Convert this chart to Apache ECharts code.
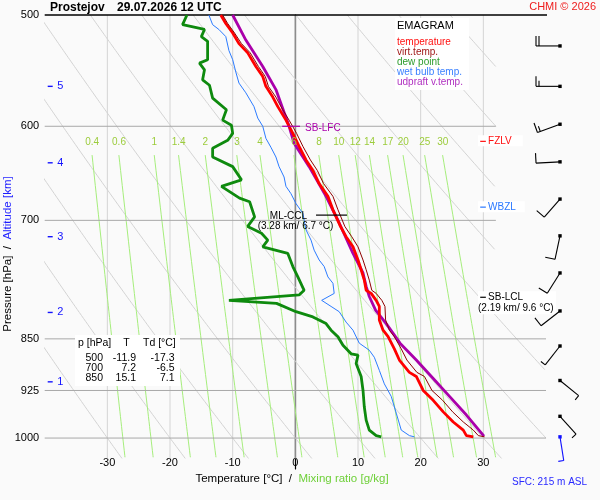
<!DOCTYPE html>
<html>
<head>
<meta charset="utf-8">
<title>Emagram Prostejov</title>
<script src="https://cdn.jsdelivr.net/npm/echarts@6.0.0/dist/echarts.min.js"></script>
<style>
html,body{margin:0;padding:0;background:#fafafa;}
#chart{width:600px;height:500px;}
</style>
</head>
<body>
<div id="chart"></div>
<script>
// ---------------- DATA ----------------
const tempP = [500,507,515,524,532,544,553,562,572,581,594,607,620,634,645,659,673,688,707,719,731,747,759,772,785,789,798,806,824,838,847,864,880,898,904,925,940,958,974,987,996,998];
const tempT = [-11.9,-11.1,-10.0,-9.0,-7.6,-6.3,-5.2,-4.7,-3.6,-2.8,-1.5,-0.4,0.6,1.7,2.8,3.8,5.2,6.0,7.2,8.1,9.2,10.0,10.5,11.0,11.3,12.1,12.9,13.4,13.4,14.0,14.8,15.8,16.6,18.2,19.3,20.4,22.0,23.6,25.2,26.8,27.3,28.4];

const virtP = [500,507,515,524,532,544,553,562,572,581,594,607,620,634,645,659,673,688,707,719,731,747,759,772,785,789,798,806,824,838,847,864,880,898,904,925,940,958,974,987,996,998];
const virtT = [-11.6,-10.8,-9.7,-8.6,-7.2,-5.9,-4.8,-4.3,-3.1,-2.3,-1.0,0.2,1.2,2.4,3.5,4.5,6.0,6.8,7.9,9.0,10.0,10.8,11.3,11.8,12.2,12.9,13.8,14.3,14.4,15.0,15.8,16.9,17.8,19.4,20.6,21.8,23.5,25.1,26.8,28.4,29.2,30.2];

const dewP = [500,508,512,518,522,538,541,547,556,561,573,584,594,599,607,614,622,631,641,655,662,675,679,696,707,715,723,731,739,755,768,785,791,798,802,813,820,829,838,847,859,871,873,885,904,925,950,971,987,996,998];
const dewT = [-17.3,-18.0,-14.5,-15.0,-14.0,-14.0,-15.3,-14.5,-14.8,-13.7,-13.2,-11.0,-11.6,-10.2,-10.0,-10.8,-13.2,-13.2,-10.0,-8.6,-11.8,-8.9,-7.3,-6.5,-7.6,-5.4,-4.4,-5.2,-1.2,-0.4,0.4,1.4,0.6,-10.6,-3.0,0.1,2.8,4.9,5.7,6.8,7.6,8.9,10.0,9.7,10.5,10.8,11.0,11.3,11.8,12.9,13.7];

const wetP = [500,508,512,518,530,538,549,559,568,581,592,600,612,621,631,641,652,662,670,681,692,711,723,735,747,755,768,776,789,798,806,813,827,838,856,866,876,895,915,934,960,987,996,998];
const wetT = [-13.8,-13.2,-12.2,-11.1,-10.6,-10.0,-9.5,-9.0,-7.9,-6.6,-6.0,-5.2,-4.7,-3.9,-3.1,-2.6,-1.8,-1.5,-0.7,0.1,1.2,1.7,2.5,3.0,3.8,4.6,5.2,6.0,6.2,4.2,5.7,7.0,8.1,9.2,10.2,11.8,12.6,13.4,14.2,15.3,16.1,16.9,18.2,19.0];

const updraftP = [500,521,544,565,600,617,641,673,703,739,763,780,793,811,829,856,880,907,934,963,997];
const updraftT = [-10.0,-7.9,-5.2,-3.1,-1.0,-0.2,2.2,4.9,7.0,9.2,10.8,11.3,11.8,12.8,14.5,16.7,19.3,22.0,24.6,27.3,30.1];

const windP   = [526,562,598,636,676,718,763,812,860,910,965,998];
const windDir = [270,270,250,267,221,192,212,232,218,129,138,171];
const windKt  = [20,15,15,10,10,10,10,10,5,5,5,5];

const levelNames = ['SB-LFC','FZLV','WBZL','ML-CCL','SB-LCL'];
const levelP     = [600,615,685,694,794];
const levelNotes = ['','','','(3.28 km/ 6.7 °C)','(2.19 km/ 9.6 °C)'];

const tableP  = [500,700,850];
const tableT  = [-11.9,7.2,15.1];
const tableTd = [-17.3,-6.5,7.1];

const pressureTicks = [500,600,700,850,925,1000];
const isobars       = [600,700,850,925,1000];
const isotherms     = [-30,-20,-10,0,10,20,30];
const altitudeKm    = [1,2,3,4,5];
const altitudeP     = [912,814,719,637,562];
const mixRatios     = [0.4,0.6,1,1.4,2,3,4,6,8,10,12,14,17,20,25,30];
const thetaC        = [-30,-20,-10,0,10,20,30,40,50,60,70,80,90,100];

// ---------------- helpers (diagram background physics) ----------------
const FONT = '"Liberation Sans", Arial, Helvetica, sans-serif';
const KAPPA = 0.286;
function adiabatT(th, p){ return (th + 273.15) * Math.pow(p / 1000, KAPPA) - 273.15; }
function mixDew(w, p){ const e = w * p / (622 + w); const l = Math.log(e / 6.112); return 243.5 * l / (17.67 - l); }
function rightLimit(p){ return p < 800 ? 32 : 40; }
const zip = (P, T) => P.map((p, i) => [T[i], p]);

const series = [];
function bg(data, color, width, z, clip){
  series.push({type:'line', data, symbol:'none', silent:true, animation:false, z:z||1,
    clip: clip !== false, lineStyle:{color, width}});
}

// isotherms
isotherms.forEach(t => bg([[t,500],[t,1034]], t === 0 ? '#8c8c8c' : '#d4d4d4', t === 0 ? 1.3 : 1, 1));
// dry adiabats
thetaC.forEach(th => {
  let seg = [];
  for (let p = 500; p <= 1034; p += 2) {
    const t = adiabatT(th, p);
    if (t <= rightLimit(p) && t >= -44) seg.push([t, p]);
    else { if (seg.length > 1) bg(seg, '#d3d3d3', 1, 1); seg = []; }
  }
  if (seg.length > 1) bg(seg, '#d3d3d3', 1, 1);
});
// mixing ratio lines
mixRatios.forEach(w => {
  const d = [];
  for (let p = 629; p <= 1032; p += 8) d.push([mixDew(w, p), p]);
  d.push([mixDew(w, 1032), 1032]);
  bg(d, '#a6ee7c', 1, 2);
});
// isobars
isobars.forEach(p => bg([[-40,p],[rightLimit(p),p]], '#a8a8a8', 1, 2));
// top border line
bg([[-40,500],[47,500]], '#000', 1.5, 5, false);

// text series helper (text placed through the axes)
function textSeries(data, make, z){
  series.push({type:'custom', silent:true, animation:false, clip:false, z:z||3, data,
    renderItem: (params, api) => make(api, params.dataIndex)});
}
// mixing ratio labels
textSeries(mixRatios.map(w => [mixDew(w, 630), 615.5]), (api, i) => {
  const pt = api.coord([api.value(0), api.value(1)]);
  return {type:'text', x:pt[0], y:pt[1], style:{text:String(mixRatios[i]), font:'10px ' + FONT, fill:'#9ccc3c', align:'center', verticalAlign:'middle'}};
}, 11);
// pressure tick labels
textSeries(pressureTicks.map(p => [-40, p]), (api, i) => {
  const pt = api.coord([api.value(0), api.value(1)]);
  return {type:'text', x:pt[0] - 5.5, y:pt[1], style:{text:String(pressureTicks[i]), font:'11px ' + FONT, fill:'#000', align:'right', verticalAlign:'middle'}};
});
// altitude ticks
textSeries(altitudeP.map(p => [-40, p]), (api, i) => {
  const pt = api.coord([api.value(0), api.value(1)]);
  return {type:'group', children:[
    {type:'rect', shape:{x:pt[0] + 3, y:pt[1] - 0.7, width:5, height:1.4}, style:{fill:'#1414ff'}},
    {type:'text', x:pt[0] + 12.5, y:pt[1], style:{text:String(altitudeKm[i]), font:'11px ' + FONT, fill:'#1414ff', align:'left', verticalAlign:'middle'}}
  ]};
});

// profiles
function prof(P, T, color, width, z){
  series.push({type:'line', data: zip(P, T), symbol:'none', silent:true, animation:false, z, lineStyle:{color, width}});
}
prof(wetP, wetT, '#2b7bff', 1, 5);
prof(dewP, dewT, '#0e8a0e', 2.8, 6);
prof(updraftP, updraftT, '#aa00aa', 2.8, 7);
prof(tempP, tempT, '#ff0000', 2.8, 8);
prof(virtP, virtT, '#8e0000', 1, 9);

// level markers
const levelLayout = [
  {tick:[-2.1,0.75], tx:1.55, color:'#aa00aa', dy:1.5},
  {box:[29.15,36.3], tick:[29.5,30.4], tx:30.75, color:'#ff1010', dy:0},
  {box:[29.15,36.6], tick:[29.5,30.4], tx:30.75, color:'#2a78ff', dy:0},
  {line:[3.3,8.25], nameRight:1.87, noteCenter:0.03, color:'#000', dy:1},
  {box:[29.15,41.6], tick:[29.5,30.4], tx:30.75, noteLeft:29.15, color:'#000', dy:0}
];
series.push({type:'custom', silent:true, animation:false, clip:false, z:10,
  data: levelP.map((p, i) => [i, p]),
  renderItem: (params, api) => {
    const i = api.value(0), p = api.value(1), L = levelLayout[i];
    const y = api.coord([0, p])[1];
    const X = t => api.coord([t, p])[0];
    const font = '10px ' + FONT;
    const ch = [];
    if (L.box) {
      const h = levelNotes[i] ? 23 : 11;
      ch.push({type:'rect', shape:{x:X(L.box[0]), y:y-6, width:X(L.box[1])-X(L.box[0]), height:h}, style:{fill:'#ffffff'}});
    }
    if (L.tick) ch.push({type:'line', shape:{x1:X(L.tick[0]), y1:y, x2:X(L.tick[1]), y2:y}, style:{stroke:L.color, lineWidth:1.2}});
    if (L.line) ch.push({type:'line', shape:{x1:X(L.line[0]), y1:y, x2:X(L.line[1]), y2:y}, style:{stroke:L.color, lineWidth:1.2}});
    if (L.tx !== undefined) ch.push({type:'text', x:X(L.tx), y:y+L.dy, style:{text:levelNames[i], fill:L.color, font, align:'left', verticalAlign:'middle'}});
    if (L.nameRight !== undefined) ch.push({type:'text', x:X(L.nameRight), y:y+L.dy, style:{text:levelNames[i], fill:L.color, font, align:'right', verticalAlign:'middle'}});
    if (L.noteCenter !== undefined) ch.push({type:'text', x:X(L.noteCenter), y:y+11, style:{text:levelNotes[i], fill:L.color, font, align:'center', verticalAlign:'middle'}});
    if (L.noteLeft !== undefined) ch.push({type:'text', x:X(L.noteLeft), y:y+10.5, style:{text:levelNotes[i], fill:L.color, font, align:'left', verticalAlign:'middle'}});
    return {type:'group', children:ch};
  }
});

// wind barbs
const BARB_X = 560;
series.push({type:'custom', silent:true, animation:false, clip:false, z:10,
  data: windP.map((p, i) => [p, windDir[i], windKt[i]]),
  renderItem: (params, api) => {
    const p = api.value(0), dir = api.value(1), kt = api.value(2);
    const y = api.coord([0, p])[1];
    const col = params.dataIndex === windP.length - 1 ? '#1010ff' : '#000';
    const r = dir * Math.PI / 180;
    const ux = Math.sin(r), uy = -Math.cos(r);
    const nx = -uy, ny = ux;
    const L = 24;
    const tx = BARB_X + ux * L, ty = y + uy * L;
    const ch = [
      {type:'line', shape:{x1:BARB_X, y1:y, x2:tx, y2:ty}, style:{stroke:col, lineWidth:1.1}},
      {type:'rect', shape:{x:BARB_X-1.7, y:y-1.7, width:3.4, height:3.4}, style:{fill:col}}
    ];
    let rem = Math.round(kt / 5) * 5, d = 0;
    while (rem >= 10) {
      const bx = tx - ux * d, by = ty - uy * d;
      ch.push({type:'line', shape:{x1:bx, y1:by, x2:bx + nx * 10, y2:by + ny * 10}, style:{stroke:col, lineWidth:1.1}});
      rem -= 10; d += 3;
    }
    if (rem >= 5) {
      const bx = tx - ux * d, by = ty - uy * d;
      ch.push({type:'line', shape:{x1:bx, y1:by, x2:bx + nx * 5.5, y2:by + ny * 5.5}, style:{stroke:col, lineWidth:1.1}});
    }
    return {type:'group', children:ch};
  }
});

// ---------------- graphic texts ----------------
const graphic = [
  {type:'text', x:50, y:8, style:{text:'Prostejov', font:'bold 12px ' + FONT, fill:'#000', verticalAlign:'middle'}},
  {type:'text', x:117, y:8, style:{text:'29.07.2026 12 UTC', font:'bold 12px ' + FONT, fill:'#000', verticalAlign:'middle'}},
  {type:'text', x:596, y:7, style:{text:'CHMI © 2026', font:'11px ' + FONT, fill:'#ee1c1c', align:'right', verticalAlign:'middle'}},
  // legend box
  {type:'rect', shape:{x:395, y:18, width:74, height:72}, style:{fill:'#ffffff'}, z:20},
  {type:'text', x:397, y:26, z:21, style:{text:'EMAGRAM', font:'11px ' + FONT, fill:'#000', verticalAlign:'middle'}},
  {type:'text', x:397, y:42, z:21, style:{text:'temperature', font:'10px ' + FONT, fill:'#ff1010', verticalAlign:'middle'}},
  {type:'text', x:397, y:52, z:21, style:{text:'virt.temp.', font:'10px ' + FONT, fill:'#a01818', verticalAlign:'middle'}},
  {type:'text', x:397, y:62, z:21, style:{text:'dew point', font:'10px ' + FONT, fill:'#2c9c2c', verticalAlign:'middle'}},
  {type:'text', x:397, y:72, z:21, style:{text:'wet bulb temp.', font:'10px ' + FONT, fill:'#3a80ff', verticalAlign:'middle'}},
  {type:'text', x:397, y:82, z:21, style:{text:'udpraft v.temp.', font:'10px ' + FONT, fill:'#b030c0', verticalAlign:'middle'}},
  // table box
  {type:'rect', shape:{x:75, y:335, width:105, height:51}, style:{fill:'#ffffff'}, z:20},
  {type:'text', x:78, y:343, z:21, style:{text:'p [hPa]', font:'10.5px ' + FONT, fill:'#000', verticalAlign:'middle'}},
  {type:'text', x:126.5, y:343, z:21, style:{text:'T', font:'10.5px ' + FONT, fill:'#000', align:'center', verticalAlign:'middle'}},
  {type:'text', x:143, y:343, z:21, style:{text:'Td [°C]', font:'10.5px ' + FONT, fill:'#000', verticalAlign:'middle'}},
  // axis titles
  {type:'text', x:292, y:479, style:{text:'{a|Temperature [°C]}  /  {b|Mixing ratio [g/kg]}', font:'11.5px ' + FONT, fill:'#000', align:'center', verticalAlign:'middle',
     rich:{a:{fill:'#000', font:'11.5px ' + FONT}, b:{fill:'#6fd03a', font:'11.5px ' + FONT}}}},
  {type:'text', x:8, y:254, rotation:Math.PI/2, style:{text:'{a|Pressure [hPa]}  /  {b|Altitude [km]}', font:'11.5px ' + FONT, fill:'#000', align:'center', verticalAlign:'middle',
     rich:{a:{fill:'#000', font:'11.5px ' + FONT}, b:{fill:'#1e1eff', font:'11.5px ' + FONT}}}},
  {type:'text', x:512, y:482, style:{text:'SFC: 215 m ASL', font:'10px ' + FONT, fill:'#2a2aff', verticalAlign:'middle'}}
];
tableP.forEach((p, i) => {
  const y = 358 + i * 10;
  graphic.push({type:'text', x:103, y, z:21, style:{text:String(p), font:'10.5px ' + FONT, fill:'#000', align:'right', verticalAlign:'middle'}});
  graphic.push({type:'text', x:136, y, z:21, style:{text:tableT[i].toFixed(1), font:'10.5px ' + FONT, fill:'#000', align:'right', verticalAlign:'middle'}});
  graphic.push({type:'text', x:174.5, y, z:21, style:{text:tableTd[i].toFixed(1), font:'10.5px ' + FONT, fill:'#000', align:'right', verticalAlign:'middle'}});
});

// ---------------- chart ----------------
const chart = echarts.init(document.getElementById('chart'));
chart.setOption({
  animation:false,
  backgroundColor:'#fafafa',
  textStyle:{fontFamily:FONT},
  grid:{left:44.7, top:15, width:501.3, height:454, containLabel:false},
  xAxis:{type:'value', min:-40, max:40, interval:10,
    axisLine:{show:false}, axisTick:{show:false}, splitLine:{show:false},
    axisLabel:{margin:-12, fontSize:11, color:'#000', fontFamily:FONT,
      formatter: v => (isotherms.indexOf(v) >= 0 ? String(v) : '')}},
  yAxis:{type:'log', logBase:10, min:500, max:1052, inverse:true,
    axisLine:{show:true, lineStyle:{color:'#000', width:1.2}},
    axisTick:{show:false}, axisLabel:{show:false}, splitLine:{show:false}},
  series,
  graphic
});
</script>
</body>
</html>
